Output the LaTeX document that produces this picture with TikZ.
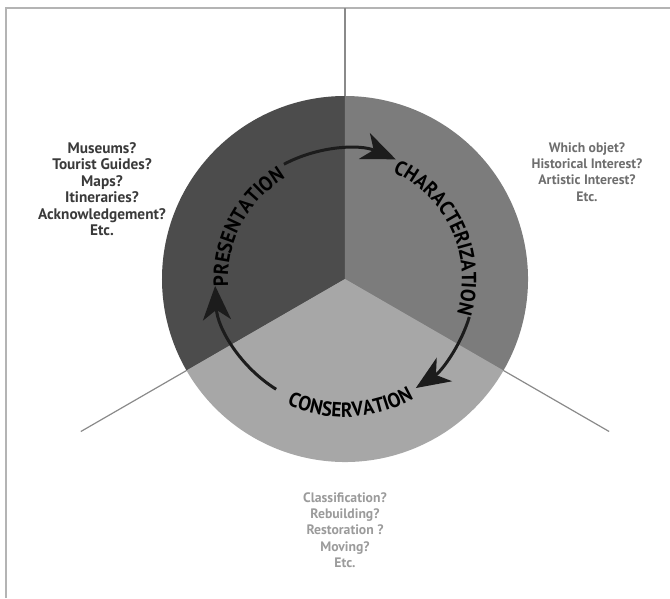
\documentclass[tikz,border=0pt]{standalone}
\usepackage{fontspec}
\setsansfont{PT Sans}
\newfontfamily\labelface[FakeStretch=0.93]{PT Sans}
\usetikzlibrary{arrows.meta,decorations.text}
\definecolor{sectdark}{HTML}{4C4C4C}
\definecolor{sectmid}{HTML}{7C7C7C}
\definecolor{sectlight}{HTML}{A7A7A7}
\definecolor{framegrey}{HTML}{B4B4B4}
\definecolor{linegrey}{HTML}{8A8A8A}
\definecolor{arrowblack}{HTML}{1C1C1C}
\definecolor{presgrey}{HTML}{3A3A3A}
\definecolor{chargrey}{HTML}{6E6E6E}
\definecolor{consgrey}{HTML}{9B9B9B}
\newcommand{\labelfont}{\labelface\bfseries\fontsize{20.5}{20.5}\selectfont}
\newcommand{\listfont}{\sffamily\bfseries\fontsize{13.7}{16.4}\selectfont}
\newcommand{\biglistfont}{\sffamily\bfseries\fontsize{15.3}{16.5}\selectfont}
\begin{document}
\begin{tikzpicture}[x=1pt,y=1pt,
	divider/.style={color=linegrey,line width=1.2pt},
	cyclearrow/.style={color=arrowblack,line width=3pt,-{Stealth[length=34pt,width=28pt,inset=10pt]}},
	qlist/.style={align=center,font=\listfont,inner sep=0pt}]
\useasboundingbox (-345,-319) rectangle (325,279);
% frame
\draw[color=framegrey,line width=1.8pt] (-339,-319) -- (-339,271) -- (325,271);
% dividers, under the disc
\coordinate (centre) at (0,0);
\coordinate (divtop) at (0,271);
\coordinate (divleft) at (210:305pt);
\coordinate (divright) at (330:305pt);
\foreach \e in {divtop,divleft,divright}{
	\draw[divider] (centre) -- (\e);}
% sectors
\foreach \a/\b/\col in {90/210/sectdark,-30/90/sectmid,210/330/sectlight}{
	\fill[color=\col] (centre) -- (\a:183pt) arc[start angle=\a,end angle=\b,radius=183pt] -- cycle;}
% labels round the circle
\path[decorate,decoration={text along path,text align=center,text={|\labelfont|PRESENTATION}}]
	(202:117pt) arc[start angle=202,end angle=102,radius=117pt];
\path[decorate,decoration={text along path,text align=center,text={|\labelfont|CHARACTERIZATION}}]
	(80:117pt) arc[start angle=80,end angle=-31,radius=117pt];
\path[decorate,decoration={text along path,text align=center,text={|\labelfont|CONSERVATION}}]
	(-140:138pt) arc[start angle=-140,end angle=-35,radius=138pt];
% cycle arrows
\foreach \s/\t/\n in {118/67/arrA,-17/-57/arrB,238/183/arrC}{
	\coordinate (\n) at (\s:130pt);
	\draw[cyclearrow] (\n) arc[start angle=\s,end angle=\t,radius=130pt];}
% question lists
\node[qlist,font=\biglistfont,text=presgrey] (presq) at (-243,90) {Museums?\\Tourist Guides?\\Maps?\\Itineraries?\\Acknowledgement?\\Etc.};
\node[qlist,text=chargrey] (charq) at (242,107) {Which objet?\\Historical Interest?\\Artistic Interest?\\Etc.};
\node[qlist,text=consgrey] (consq) at (0,-251) {Classification?\\Rebuilding?\\Restoration ?\\Moving?\\Etc.};
\end{tikzpicture}
\end{document}
